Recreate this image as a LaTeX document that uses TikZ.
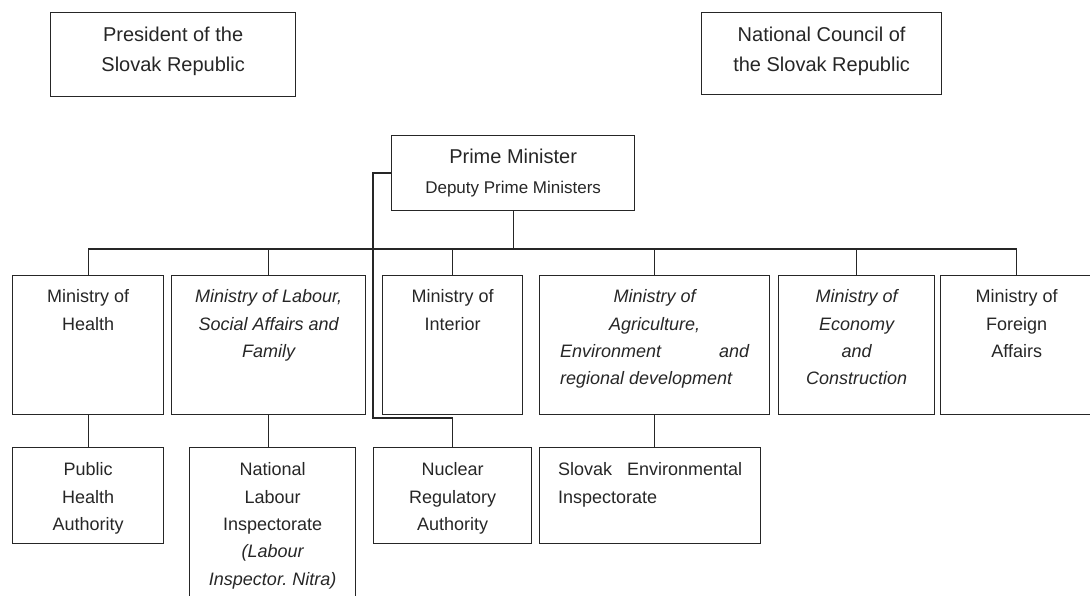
\documentclass[tikz,border=0pt]{standalone}
\usepackage{fontspec}
\setmainfont{Liberation Sans}
\tikzset{
  unit/.style={draw=black!85, line width=1.3pt, inner sep=0pt, anchor=north west, text=black!85},
  link/.style={draw=black!85, line width=1.3pt},
  top/.style={font=\fontsize{20}{30}\selectfont},
  mid/.style={font=\fontsize{18}{27.4}\selectfont},
}
% box text: width, height, first baseline, lines
\newcommand{\unittext}[4]{\parbox[c][#2][t]{#1}{\centering\rule{0pt}{#3}#4}}
\begin{document}
\begin{tikzpicture}[x=1pt,y=-1pt]
  \useasboundingbox (0,0) rectangle (1090,596);

  % top level
  \node[unit,top] (pres) at (50,12) {\unittext{245pt}{84pt}{29pt}{President of the\\Slovak Republic}};
  \node[unit,top] (ncsr) at (701,12) {\unittext{240pt}{82pt}{29pt}{National Council of\\the Slovak Republic}};
  \node[unit,font=\fontsize{17}{30}\selectfont] (pm) at (391,135)
    {\unittext{243pt}{75pt}{28pt}{{\fontsize{20}{30}\selectfont Prime Minister}\\Deputy Prime Ministers}};

  % ministries
  \node[unit,mid] (health) at (12,275) {\unittext{151pt}{139pt}{27pt}{Ministry of\\Health}};
  \node[unit,mid] (labour) at (171,275) {\unittext{194pt}{139pt}{27pt}{\itshape Ministry of Labour,\\Social Affairs and\\Family}};
  \node[unit,mid] (interior) at (382,275) {\unittext{140pt}{139pt}{27pt}{Ministry of\\Interior}};
  \node[unit,mid] (agri) at (539,275) {\unittext{230pt}{139pt}{27pt}{\itshape Ministry of\\Agriculture,\\
    \makebox[189pt][s]{Environment\hfill and}\\\makebox[189pt][l]{regional development}}};
  \node[unit,mid] (econ) at (778,275) {\unittext{156pt}{139pt}{27pt}{\itshape Ministry of\\Economy\\and\\Construction}};
  \node[unit,mid] (foreign) at (940,275) {\unittext{152pt}{139pt}{27pt}{Ministry of\\Foreign\\Affairs}};

  % bodies under the ministries
  \node[unit,mid] (pha) at (12,447) {\unittext{151pt}{96pt}{28pt}{Public\\Health\\Authority}};
  \node[unit,mid] (nli) at (189,447) {\unittext{166pt}{160pt}{28pt}{National\\Labour\\Inspectorate\\\itshape (Labour\\Inspector.\ Nitra)}};
  \node[unit,mid] (nra) at (373,447) {\unittext{158pt}{96pt}{28pt}{Nuclear\\Regulatory\\Authority}};
  \node[unit,mid] (sei) at (539,447) {\unittext{221pt}{96pt}{28pt}{\makebox[184pt][s]{Slovak\hfill Environmental}\\\makebox[184pt][l]{Inspectorate}}};

  % connectors
  \coordinate (bus) at (0,249);
  \coordinate (jog) at (373,418);
  \draw[link] (pm.south) -- (pm.south |- bus);
  \draw[link] (health.north |- bus) -- (foreign.north |- bus);
  \foreach \m in {health,labour,interior,agri,econ,foreign}
    \draw[link] (\m.north) -- (\m.north |- bus);
  \draw[link] (health.south) -- (pha.north);
  \draw[link] (labour.south) -- (labour.south |- nli.north);
  \draw[link] (agri.south) -- (agri.south |- sei.north);
  \draw[link] (pm.west) -| (jog) -| (nra.north);
\end{tikzpicture}
\end{document}
